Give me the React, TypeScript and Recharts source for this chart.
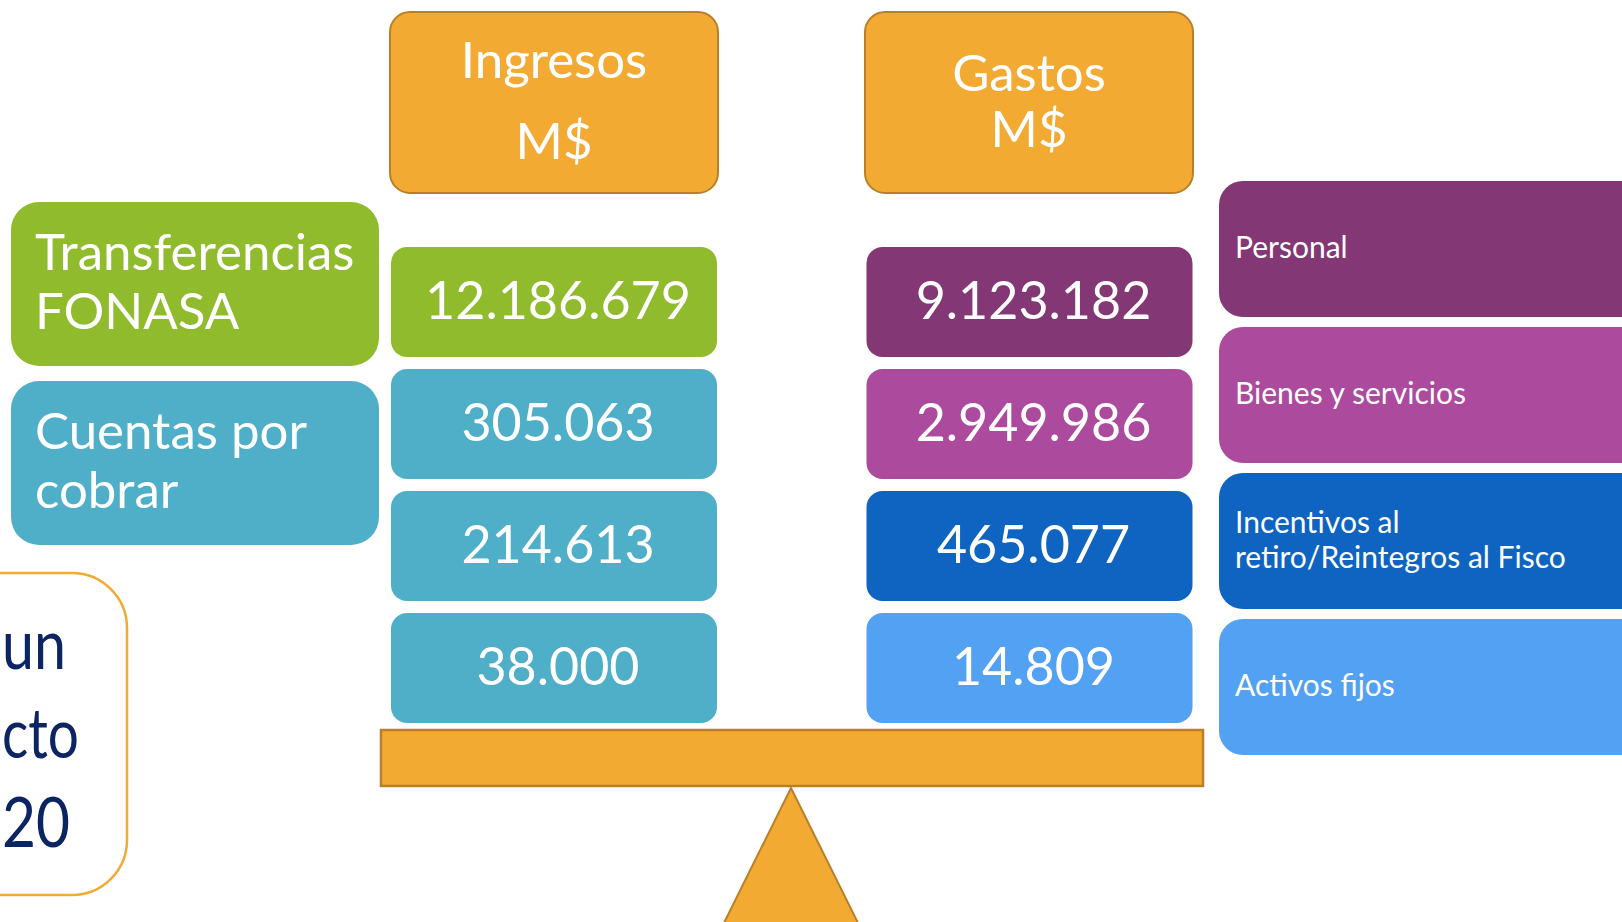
import React from "react";
import { BarChart, Bar, XAxis, YAxis, Cell } from "recharts";

// columnas de la balanza
const columnas = ["Ingresos", "Gastos"];
// montos en M$
const ingresos = [12186679, 305063, 214613, 38000];
const gastos = [9123182, 2949986, 465077, 14809];
// cada monto ocupa una celda de la tabla
const celdas = [1, 1, 1, 1];

const conceptosIngreso = [
  ["Transferencias", "FONASA"],
  ["Cuentas por", "cobrar"],
];
const conceptosGasto = [
  ["Personal"],
  ["Bienes y servicios"],
  ["Incentivos al", "retiro/Reintegros al Fisco"],
  ["Activos fijos"],
];
const textoRecuadro = ["un", "cto", "20"];

const coloresIngreso = ["#8FBB2D", "#4FAFC8", "#4FAFC8", "#4FAFC8"];
const coloresGasto = ["#833774", "#AC4A9E", "#0E64C0", "#52A1F2"];
const NARANJO = "#F2AA33";
const BORDE = "#B98029";

const miles = (n: number) => n.toString().replace(/\B(?=(\d{3})+(?!\d))/g, ".");

const data = columnas.map((columna, c) => {
  const row: any = { columna };
  celdas.forEach((v, i) => {
    row[`f${i}`] = v;
    row[`m${i}`] = miles(c === 0 ? ingresos[i] : gastos[i]);
  });
  return row;
});

const celda = (i: number) => (props: any) => {
  const { x, y, width, height, fill, payload } = props;
  const top = Math.min(y, y + height);
  const h = Math.abs(height);
  return (
    <g>
      <rect x={x} y={top + 6} width={width} height={h - 12} rx={16} fill={fill} />
      <text
        x={x + width / 2 + 4}
        y={top + h / 2 + 17}
        textAnchor="middle"
        fill="#fff"
        fontSize={52}>
        {payload[`m${i}`]}
      </text>
    </g>
  );
};

// ancho visible de cada linea del recuadro recortado
const anchoRecuadro = [64, 77, 68];

const Decorado = () => (
  <svg width={1622} height={922} style={{ position: "absolute", left: 0, top: 0 }}>
    {/* encabezados */}
    <rect x={390} y={12} width={328} height={181} rx={20} fill={NARANJO} stroke={BORDE} strokeWidth={2} />
    <text x={554} y={78} textAnchor="middle" fill="#fff" fontSize={51}>{columnas[0]}</text>
    <text x={554} y={159} textAnchor="middle" fill="#fff" fontSize={51}>M$</text>
    <rect x={865} y={12} width={328} height={181} rx={20} fill={NARANJO} stroke={BORDE} strokeWidth={2} />
    <text x={1029} y={91} textAnchor="middle" fill="#fff" fontSize={51}>{columnas[1]}</text>
    <text x={1029} y={147} textAnchor="middle" fill="#fff" fontSize={51}>M$</text>

    {/* conceptos de ingreso */}
    {conceptosIngreso.map((lineas, i) => (
      <g key={i}>
        <rect x={11} y={202 + i * 179} width={368} height={164} rx={28} fill={coloresIngreso[i]} />
        {lineas.map((l, j) => (
          <text key={j} x={35} y={270 + i * 179 + j * 59} fill="#fff" fontSize={51}>{l}</text>
        ))}
      </g>
    ))}

    {/* conceptos de gasto */}
    {conceptosGasto.map((lineas, i) => {
      const top = 181 + i * 146;
      const base = lineas.length > 1 ? top + 60 : top + 77;
      return (
        <g key={i}>
          <rect x={1219} y={top} width={450} height={136} rx={24} fill={coloresGasto[i]} />
          {lineas.map((l, j) => (
            <text key={j} x={1235} y={base + j * 35} fill="#fff" fontSize={30}>{l}</text>
          ))}
        </g>
      );
    })}

    {/* recuadro parcial */}
    <rect x={-100} y={573} width={227} height={322} rx={55} fill="#fff" stroke={NARANJO} strokeWidth={2.5} />
    {textoRecuadro.map((t, j) => (
      <text
        key={j}
        x={2}
        y={669 + j * 89}
        textLength={anchoRecuadro[j]}
        lengthAdjust="spacingAndGlyphs"
        fill="#0B2462"
        fontSize={69}>
        {t}
      </text>
    ))}

    {/* balanza */}
    <rect x={381} y={730} width={822} height={56} fill={NARANJO} stroke={BORDE} strokeWidth={2.5} />
    <polygon points="791,788 718,935 864,935" fill={NARANJO} stroke={BORDE} strokeWidth={2} />
  </svg>
);

export default function App() {
  return (
    <div
      style={{
        position: "absolute",
        left: 0,
        top: 0,
        width: 1622,
        height: 922,
        overflow: "hidden",
        background: "#fff",
        fontFamily: "Lato, 'Noto Sans', sans-serif",
      }}>
      <Decorado />
      <div style={{ position: "absolute", left: 0, top: 0 }}>
        <BarChart
          width={1622}
          height={922}
          data={data}
          margin={{ top: 241, bottom: 193, left: 316, right: 355 }}>
          <XAxis dataKey="columna" type="category" hide />
          <YAxis type="number" domain={[0, 4]} reversed hide />
          {celdas.map((_, i) => (
            <Bar
              key={i}
              dataKey={`f${i}`}
              stackId="a"
              barSize={326}
              isAnimationActive={false}
              shape={celda(i)}>
              {columnas.map((col, c) => (
                <Cell key={col} fill={c === 0 ? coloresIngreso[i] : coloresGasto[i]} />
              ))}
            </Bar>
          ))}
        </BarChart>
      </div>
    </div>
  );
}
